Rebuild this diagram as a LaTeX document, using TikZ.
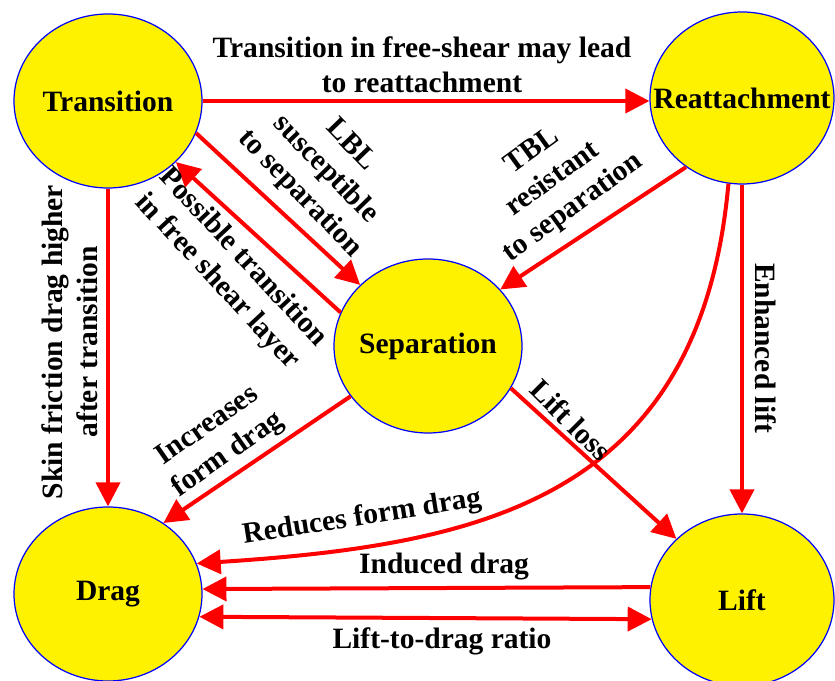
\documentclass[tikz,border=0pt]{standalone}
\usepackage{fontspec}
\setmainfont{Liberation Serif}
\usetikzlibrary{arrows.meta,shapes.geometric}

\begin{document}
\begin{tikzpicture}[>={Triangle[length=0.48cm,width=0.48cm]},
    blob/.style={ellipse,draw=blue,line width=0.7pt,fill=yellow,minimum width=3.76cm,minimum height=3.48cm,inner sep=0pt},
    arr/.style={red,line width=0.08cm,->},
    lbl/.style={font=\fontsize{16.8}{20}\selectfont\bfseries,align=center,inner sep=0pt}]
        \useasboundingbox (0,0) rectangle (16.7,13.62);
        % the five states
        \node[blob,label={[lbl]center:Transition}] (trans) at (2.16,11.6) {};
        \node[blob,minimum width=3.68cm,minimum height=3.44cm,label={[lbl]center:Reattachment}] (reat) at (14.84,11.66) {};
        \node[blob,label={[lbl]center:Separation}] (sep) at (8.56,6.7) {};
        \node[blob,label={[lbl]center:Drag}] (drag) at (2.16,1.74) {};
        \node[blob,minimum width=3.68cm,minimum height=3.44cm,label={[lbl]center:Lift}] (lift) at (14.84,1.62) {};
        % links
        \draw[arr] (trans.east) -- (trans.east -| reat.west);
        \draw[arr] (trans.-20) -- (sep.138.6);
        \draw[arr] (sep.159) -- (trans.-42);
        \draw[arr] (trans.south) -- (drag.north);
        \draw[arr] (reat.-129) -- (sep.38);
        \draw[arr] (reat.-99) .. controls (14,3.62) and (9.6,2.72) .. (drag.19.6);
        \draw[arr] (reat.south) -- (lift.north);
        \draw[arr] (sep.-147) -- (drag.52.6);
        \draw[arr] (sep.-27.7) -- (lift.137);
        \draw[arr] (lift.172.5) -- (drag.3.7);
        \draw[arr,<->] (drag.-14.9) -- (lift.-168.7);
        % link texts
        \node[lbl] (lTop) at (8.44,12.32) {Transition in free-shear may lead\\to reattachment};
        \node[lbl,rotate=-46] (lLBL) at (6.5,10.22) {LBL\\susceptible\\to separation};
        \node[lbl,rotate=-47] (lPoss) at (4.6,8.22) {Possible transition\\in free shear layer};
        \node[lbl,rotate=90] (lSkin) at (1.4,6.78) {Skin friction drag higher\\after transition};
        \node[lbl,rotate=36] (lTBL) at (11.06,10.02) {TBL\\resistant\\to separation};
        \node[lbl,rotate=9] (lRed) at (7.24,3.26) {Reduces form drag};
        \node[lbl,rotate=-90] (lEnh) at (15.32,6.66) {Enhanced lift};
        \node[lbl,rotate=35] (lInc) at (4.36,4.8) {Increases\\form drag};
        \node[lbl,rotate=-45] (lLoss) at (11.42,5.22) {Lift loss};
        \node[lbl] (lInd) at (8.88,2.28) {Induced drag};
        \node[lbl] (lRatio) at (8.84,0.8) {Lift-to-drag ratio};
\end{tikzpicture}
\end{document}
